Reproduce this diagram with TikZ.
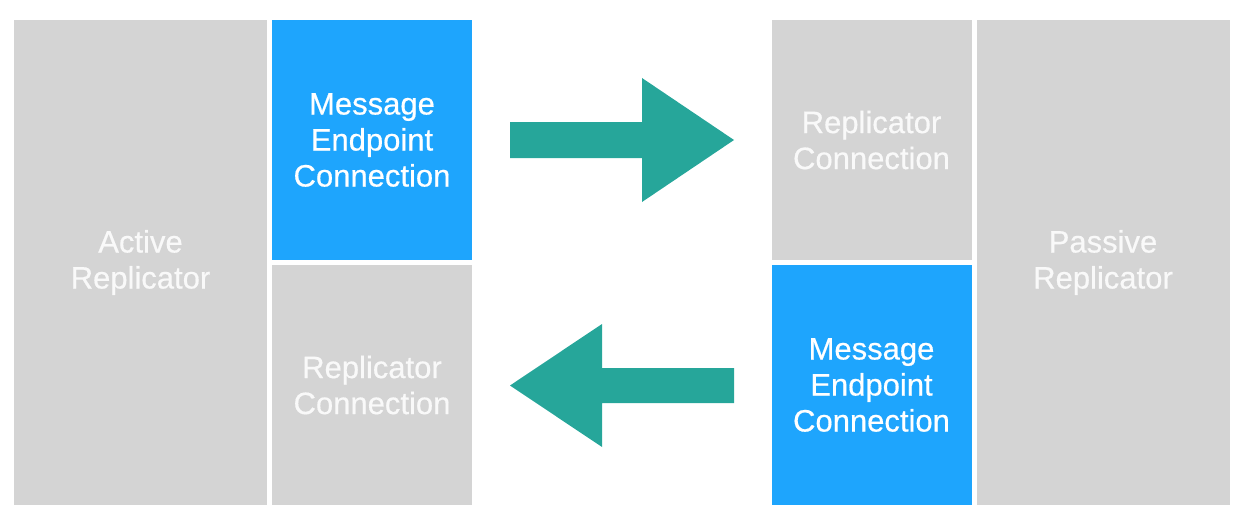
\documentclass[tikz,border=0pt]{standalone}
\usepackage{fontspec}
\setmainfont{Liberation Sans}
\newfontfamily\boxfont[FakeBold=0.5]{Liberation Sans}
\usetikzlibrary{positioning}

\definecolor{boxgrey}{HTML}{D4D4D4}
\definecolor{msgblue}{HTML}{1EA5FD}
\definecolor{arrowteal}{HTML}{26A69A}

\begin{document}
\begin{tikzpicture}[x=1pt,y=-1pt,
  box/.style={rectangle,fill=boxgrey,text=white!85!boxgrey,inner sep=0pt,outer sep=0pt,
    align=center,font=\boxfont\fontsize{31}{36}\selectfont},
  big node/.style={box,minimum width=253pt,minimum height=485pt},
  small node/.style={box,minimum width=200pt,minimum height=240pt},
  msg/.style={fill=msgblue,text=white}]

  \useasboundingbox (0,0) rectangle (1246,524);

  % active side
  \node[big node] (active) at (140.5,262.5) {Active\\Replicator};
  \node[small node,msg] (amsg) [right=5pt of active.north east,anchor=north west] {Message\\Endpoint\\Connection};
  \node[small node] (arep) [below=5pt of amsg] {Replicator\\Connection};

  % passive side
  \node[big node] (passive) at (1103,262.5) {Passive\\Replicator};
  \node[small node] (prep) [left=5pt of passive.north west,anchor=north east] {Replicator\\Connection};
  \node[small node,msg] (pmsg) [below=5pt of prep] {Message\\Endpoint\\Connection};

  % block arrows
  \fill[arrowteal] (510,122) -- (642,122) -- (642,78) -- (734,140)
    -- (642,202) -- (642,158) -- (510,158) -- cycle;
  \fill[arrowteal] (734,368) -- (602,368) -- (602,324) -- (510,385.5)
    -- (602,447) -- (602,403) -- (734,403) -- cycle;
\end{tikzpicture}
\end{document}
